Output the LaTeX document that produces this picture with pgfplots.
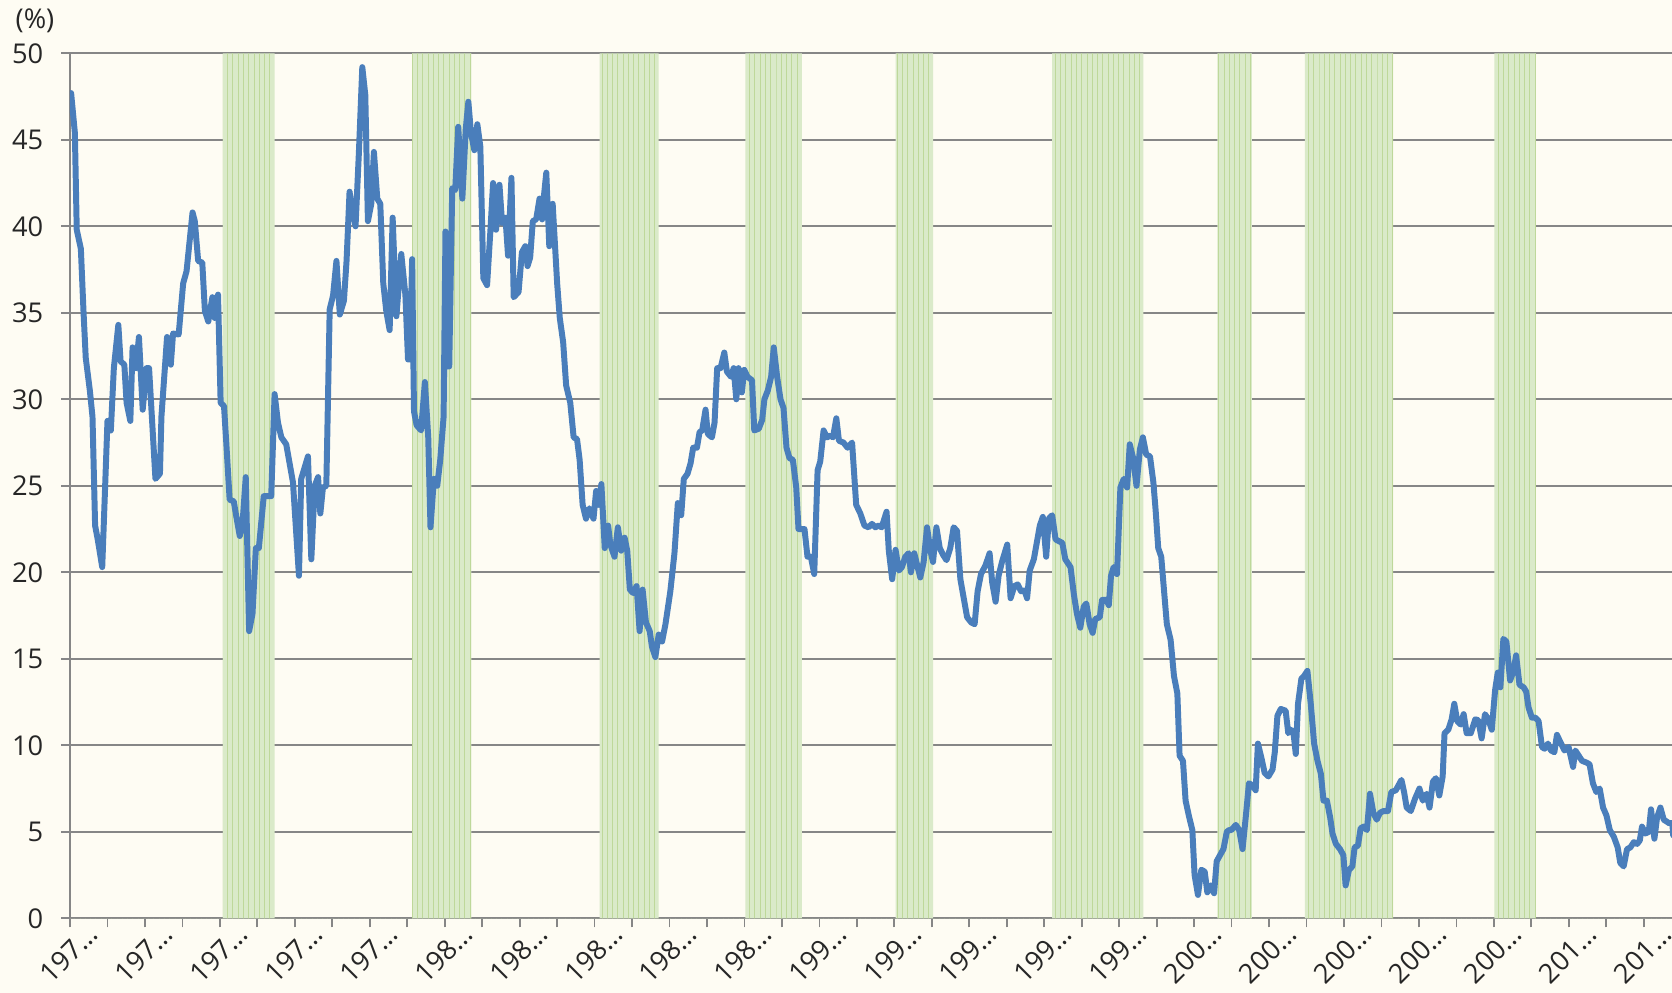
\documentclass[border=0pt]{standalone}
\usepackage{fontspec}
\setmainfont{Open Sans}
\usepackage{pgfplots}
\pgfplotsset{compat=1.18}
\usetikzlibrary{patterns}
\definecolor{bgcream}{RGB}{254,252,243}
\definecolor{lineblue}{RGB}{74,126,187}
\definecolor{gridgray}{RGB}{134,134,134}
\definecolor{bandfill}{RGB}{218,234,201}
\definecolor{bandline}{RGB}{190,216,154}

\begin{document}
\begin{tikzpicture}
\fill[bgcream] (-14mm,-14.94mm) rectangle (320.4mm,183.66mm);
\begin{axis}[
  name=ax, at={(0,0)}, anchor=south west,
  scale only axis, width=320.4mm, height=173mm,
  xmin=1970, xmax=2012.75, ymin=0, ymax=50,
  axis x line*=bottom, axis y line*=left,
  axis line style={gridgray, line width=1pt, -},
  ytick={0,5,...,50},
  xtick={1970,...,2012},
  xticklabels={197…,,197…,,197…,,197…,,197…,,198…,,198…,,198…,,198…,,198…,,199…,,199…,,199…,,199…,,199…,,200…,,200…,,200…,,200…,,200…,,201…,,201…},
  tick align=outside,
  major tick length=1.8mm,
  tick style={gridgray, line width=1pt},
  ymajorgrids, grid style={gridgray, line width=1pt},
  tick label style={font=\fontsize{15.5}{18}\selectfont, text=black!85},
  /pgf/number format/assume math mode=true,
  yticklabel style={anchor=east, inner sep=0pt, xshift=-3.5mm},
  xticklabel style={rotate=45, anchor=east, inner sep=0pt, xshift=2.9mm, yshift=-3.6mm},
]
% shaded periods: 50 inside a period, 0 outside
\addplot[const plot, draw=none, fill=bandfill,
  postaction={pattern=vertical lines, pattern color=bandline}]
  coordinates {(1970,0)(1974.08,50)(1975.46,0)(1979.13,50)(1980.71,0)(1984.13,50)(1985.71,0)
  (1988.02,50)(1989.53,0)(1992.03,50)(1993.03,0)(1996.21,50)(1998.64,0)(2000.62,50)(2001.54,0)
  (2002.95,50)(2005.31,0)(2008.01,50)(2009.12,0)(2012.75,0)} \closedcycle;
\addplot[lineblue, line width=3.4pt, line join=round, line cap=round, no markers] coordinates {
(1970.03,47.7)(1970.13,45.4)(1970.18,39.8)(1970.29,38.7)(1970.36,35.1)(1970.42,32.4)(1970.53,30.5)
(1970.60,29.0)(1970.67,22.7)(1970.74,21.9)(1970.86,20.3)(1970.93,24.5)(1971.00,28.75)(1971.09,28.2)
(1971.17,31.8)(1971.29,34.3)(1971.35,32.2)(1971.45,32.0)(1971.51,29.8)(1971.61,28.75)(1971.67,33.0)
(1971.76,31.8)(1971.84,33.6)(1971.94,29.4)(1972.04,31.8)(1972.11,31.8)(1972.28,25.4)(1972.40,25.7)
(1972.44,29.0)(1972.59,33.6)(1972.69,32.0)(1972.75,33.8)(1972.90,33.75)(1973.02,36.7)(1973.11,37.4)
(1973.27,40.8)(1973.33,40.3)(1973.42,38.0)(1973.53,37.9)(1973.60,35.1)(1973.69,34.5)(1973.80,35.9)
(1973.86,34.7)(1973.95,36.05)(1974.02,29.8)(1974.11,29.6)(1974.17,27.5)(1974.26,24.2)(1974.37,24.1)
(1974.44,23.2)(1974.53,22.1)(1974.60,22.7)(1974.69,25.5)(1974.78,16.6)(1974.87,17.6)(1974.96,21.4)
(1975.04,21.4)(1975.17,24.4)(1975.28,24.4)(1975.37,24.4)(1975.46,30.3)(1975.55,28.65)(1975.64,27.8)
(1975.77,27.4)(1975.95,25.2)(1976.11,19.8)(1976.17,25.4)(1976.35,26.7)(1976.44,20.75)(1976.53,25.0)
(1976.62,25.5)(1976.68,23.4)(1976.75,24.9)(1976.84,25.0)(1976.93,35.2)(1977.02,36.0)(1977.11,38.0)
(1977.20,34.9)(1977.31,35.7)(1977.38,38.0)(1977.46,42.0)(1977.53,41.0)(1977.62,40.0)(1977.71,44.3)
(1977.80,49.2)(1977.88,47.6)(1977.95,40.3)(1978.04,41.3)(1978.11,44.3)(1978.20,41.6)(1978.28,41.3)
(1978.36,36.7)(1978.44,35.1)(1978.53,34.0)(1978.61,40.5)(1978.71,34.8)(1978.84,38.4)(1978.95,36.05)
(1979.02,32.3)(1979.07,32.3)(1979.13,38.1)(1979.18,29.3)(1979.25,28.5)(1979.37,28.2)(1979.47,31.0)
(1979.56,27.8)(1979.62,22.6)(1979.71,25.4)(1979.80,25.0)(1979.88,26.5)(1979.97,29.0)(1980.02,39.7)
(1980.08,31.9)(1980.12,31.9)(1980.20,42.2)(1980.28,42.1)(1980.36,45.75)(1980.47,41.6)(1980.56,45.6)
(1980.63,47.2)(1980.70,45.4)(1980.79,44.4)(1980.87,45.9)(1980.95,44.6)(1981.03,37.0)(1981.13,36.6)
(1981.22,39.8)(1981.29,42.5)(1981.37,39.8)(1981.46,42.4)(1981.53,40.2)(1981.62,40.5)(1981.69,38.3)
(1981.78,42.8)(1981.84,35.9)(1981.97,36.2)(1982.06,38.5)(1982.15,38.85)(1982.21,37.7)(1982.28,38.2)
(1982.35,40.3)(1982.44,40.4)(1982.53,41.6)(1982.60,40.4)(1982.64,41.6)(1982.71,43.1)(1982.79,38.85)
(1982.88,41.3)(1983.00,36.7)(1983.07,34.7)(1983.16,33.3)(1983.24,30.8)(1983.35,29.8)(1983.44,27.8)
(1983.53,27.7)(1983.60,26.5)(1983.68,23.9)(1983.77,23.1)(1983.86,23.7)(1983.97,23.1)(1984.04,24.7)
(1984.11,23.9)(1984.18,25.1)(1984.27,21.4)(1984.36,22.7)(1984.42,21.6)(1984.53,20.9)(1984.62,22.6)
(1984.71,21.25)(1984.80,22.0)(1984.87,21.25)(1984.94,19.0)(1985.03,18.8)(1985.12,19.2)(1985.20,16.6)
(1985.28,19.0)(1985.37,17.1)(1985.47,16.6)(1985.53,15.7)(1985.62,15.1)(1985.71,16.4)(1985.80,16.0)
(1985.89,17.0)(1986.02,18.9)(1986.13,21.1)(1986.22,24.0)(1986.31,23.3)(1986.38,25.4)(1986.48,25.7)
(1986.56,26.3)(1986.63,27.2)(1986.73,27.2)(1986.80,28.1)(1986.87,28.2)(1986.96,29.4)(1987.02,28.0)
(1987.13,27.8)(1987.20,28.65)(1987.27,31.8)(1987.36,31.8)(1987.46,32.7)(1987.53,31.6)(1987.64,31.3)
(1987.71,31.8)(1987.78,30.0)(1987.84,31.8)(1987.93,30.4)(1987.99,31.7)(1988.08,31.3)(1988.20,31.1)
(1988.26,28.2)(1988.38,28.3)(1988.47,28.8)(1988.53,30.0)(1988.62,30.5)(1988.71,31.3)(1988.78,33.0)
(1988.87,31.3)(1988.96,30.0)(1989.04,29.5)(1989.12,27.2)(1989.20,26.6)(1989.29,26.5)(1989.38,24.9)
(1989.44,22.5)(1989.60,22.5)(1989.68,20.9)(1989.77,20.9)(1989.86,19.9)(1989.95,25.9)(1990.02,26.4)
(1990.11,28.2)(1990.20,27.8)(1990.29,27.9)(1990.36,27.8)(1990.45,28.9)(1990.52,27.6)(1990.64,27.5)
(1990.75,27.2)(1990.87,27.5)(1990.98,23.9)(1991.09,23.4)(1991.20,22.7)(1991.31,22.6)(1991.40,22.8)
(1991.49,22.6)(1991.58,22.7)(1991.66,22.6)(1991.79,23.5)(1991.85,21.25)(1991.94,19.6)(1992.03,21.3)
(1992.12,20.1)(1992.20,20.3)(1992.29,20.9)(1992.38,21.1)(1992.44,20.0)(1992.53,21.1)(1992.62,20.3)
(1992.69,19.7)(1992.78,20.6)(1992.87,22.6)(1992.96,21.25)(1993.03,20.6)(1993.12,22.6)(1993.21,21.4)
(1993.30,21.0)(1993.39,20.7)(1993.49,21.4)(1993.58,22.6)(1993.67,22.4)(1993.76,19.6)(1993.85,18.5)
(1993.94,17.4)(1994.05,17.1)(1994.14,17.0)(1994.22,18.9)(1994.31,19.9)(1994.43,20.4)(1994.54,21.1)
(1994.61,19.4)(1994.70,18.3)(1994.78,19.8)(1994.87,20.6)(1995.01,21.6)(1995.10,18.5)(1995.20,19.2)
(1995.29,19.3)(1995.38,18.9)(1995.47,18.95)(1995.54,18.5)(1995.61,20.1)(1995.72,20.75)(1995.79,21.6)
(1995.88,22.7)(1995.96,23.2)(1996.05,20.9)(1996.12,23.1)(1996.21,23.3)(1996.30,21.9)(1996.39,21.8)
(1996.48,21.7)(1996.56,20.75)(1996.70,20.3)(1996.79,18.7)(1996.87,17.6)(1996.96,16.8)(1997.05,18.0)
(1997.12,18.2)(1997.21,17.0)(1997.29,16.5)(1997.36,17.3)(1997.48,17.4)(1997.54,18.4)(1997.66,18.4)
(1997.72,18.1)(1997.78,19.8)(1997.85,20.3)(1997.94,19.9)(1998.03,24.9)(1998.12,25.4)(1998.21,24.9)
(1998.28,27.4)(1998.37,26.6)(1998.46,25.0)(1998.55,27.1)(1998.63,27.8)(1998.72,26.8)(1998.82,26.7)
(1998.91,25.2)(1998.97,23.6)(1999.04,21.4)(1999.12,20.9)(1999.20,18.8)(1999.27,17.0)(1999.37,16.1)
(1999.46,14.0)(1999.55,13.0)(1999.61,9.4)(1999.70,9.1)(1999.77,6.8)(1999.86,5.9)(1999.95,5.1)
(2000.01,2.5)(2000.10,1.35)(2000.19,2.8)(2000.28,2.7)(2000.35,1.5)(2000.44,1.9)(2000.53,1.45)
(2000.60,3.3)(2000.69,3.65)(2000.78,4.0)(2000.87,5.0)(2000.93,5.1)(2000.99,5.1)(2001.11,5.4)
(2001.20,5.1)(2001.29,4.0)(2001.38,5.95)(2001.46,7.8)(2001.55,7.7)(2001.64,7.4)(2001.70,10.1)
(2001.79,9.3)(2001.88,8.4)(2001.98,8.2)(2002.09,8.6)(2002.15,9.6)(2002.22,11.7)(2002.31,12.1)
(2002.44,12.0)(2002.51,10.7)(2002.58,10.9)(2002.65,10.7)(2002.71,9.5)(2002.77,12.4)(2002.86,13.85)
(2002.93,14.0)(2003.02,14.3)(2003.11,12.4)(2003.20,10.1)(2003.29,9.1)(2003.38,8.35)(2003.45,6.8)
(2003.54,6.8)(2003.63,5.8)(2003.69,4.9)(2003.78,4.3)(2003.89,4.0)(2003.98,3.65)(2004.04,1.9)
(2004.13,2.8)(2004.22,3.0)(2004.28,4.1)(2004.37,4.2)(2004.44,5.2)(2004.52,5.3)(2004.61,5.1)
(2004.69,7.2)(2004.78,6.1)(2004.87,5.7)(2004.96,6.1)(2005.05,6.2)(2005.17,6.2)(2005.26,7.3)
(2005.38,7.4)(2005.53,8.0)(2005.60,7.3)(2005.67,6.4)(2005.78,6.2)(2005.89,6.9)(2006.01,7.5)
(2006.10,6.8)(2006.20,7.2)(2006.28,6.4)(2006.37,7.9)(2006.45,8.1)(2006.54,7.1)(2006.63,8.2)
(2006.68,10.7)(2006.78,10.9)(2006.87,11.5)(2006.94,12.4)(2007.02,11.4)(2007.11,11.2)(2007.19,11.8)
(2007.27,10.7)(2007.38,10.7)(2007.50,11.5)(2007.58,11.45)(2007.67,10.4)(2007.76,11.8)(2007.85,11.5)
(2007.94,10.9)(2008.03,13.2)(2008.10,14.2)(2008.17,13.35)(2008.25,16.15)(2008.33,16.0)(2008.43,13.75)
(2008.52,14.3)(2008.59,15.2)(2008.68,13.5)(2008.79,13.35)(2008.86,13.1)(2008.92,12.2)(2009.01,11.6)
(2009.10,11.6)(2009.19,11.4)(2009.28,9.9)(2009.35,9.8)(2009.44,10.1)(2009.52,9.7)(2009.61,9.6)
(2009.68,10.6)(2009.79,10.1)(2009.88,9.7)(2009.99,9.9)(2010.11,8.75)(2010.17,9.7)(2010.26,9.4)
(2010.35,9.1)(2010.47,9.0)(2010.55,8.9)(2010.64,7.8)(2010.73,7.3)(2010.82,7.5)(2010.91,6.4)
(2011.00,5.95)(2011.09,5.1)(2011.20,4.7)(2011.30,4.1)(2011.37,3.2)(2011.46,3.0)(2011.55,4.0)
(2011.64,4.1)(2011.73,4.4)(2011.82,4.3)(2011.89,4.5)(2011.95,5.3)(2012.04,4.9)(2012.13,5.0)
(2012.19,6.3)(2012.28,4.6)(2012.35,5.8)(2012.44,6.4)(2012.53,5.7)(2012.67,5.5)(2012.76,5.5)
(2012.78,4.8)};
\end{axis}
\node[font=\fontsize{15.5}{18}\selectfont, text=black!85] at ([xshift=-7mm, yshift=6.6mm]ax.north west) {(\%)};
\pgfresetboundingbox
\path (-14mm,-14.94mm) rectangle (320.4mm,183.66mm);
\end{tikzpicture}
\end{document}
